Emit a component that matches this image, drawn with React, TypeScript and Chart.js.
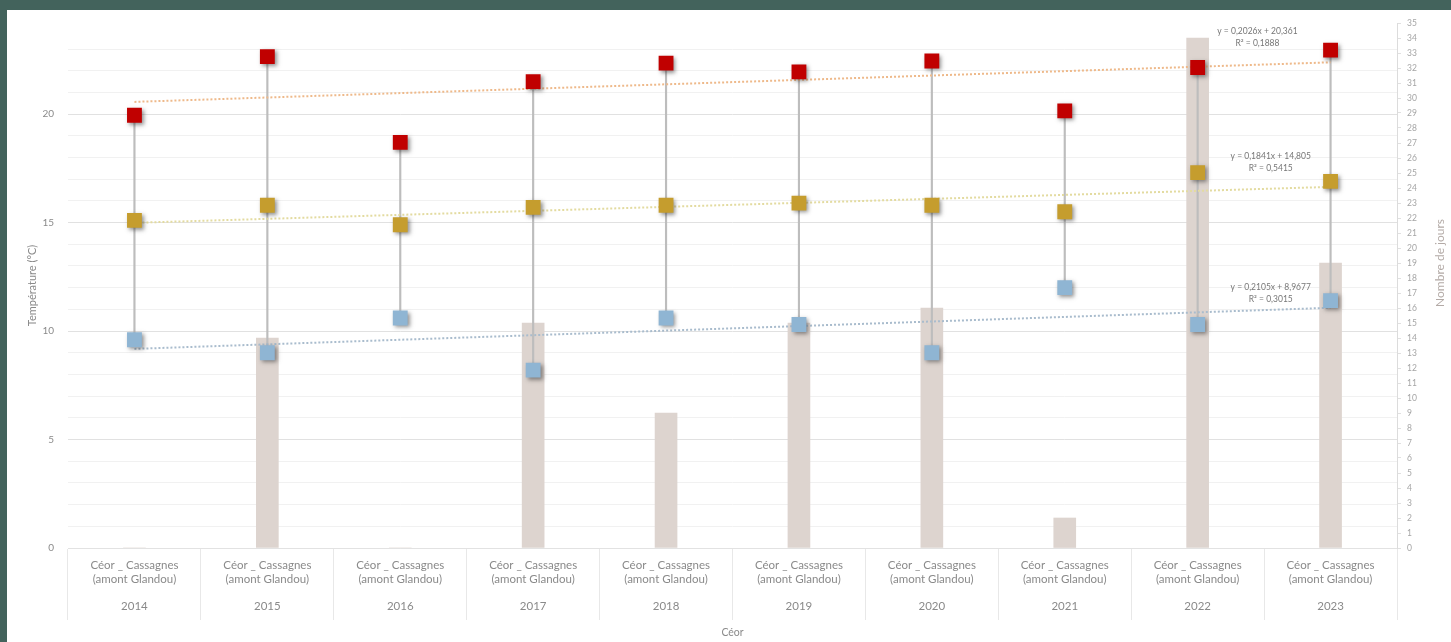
import React, { useEffect, useRef } from "react";
import { Chart, registerables } from "chart.js";

Chart.register(...registerables);

// Categories
const YEARS = ["2014", "2015", "2016", "2017", "2018", "2019", "2020", "2021", "2022", "2023"];
const SITE_LINE_1 = "Céor _ Cassagnes";
const SITE_LINE_2 = "(amont Glandou)";
const RIVER = "Céor";

// Water temperatures (°C)
const T_MAX = [19.95, 22.65, 18.7, 21.5, 22.35, 21.95, 22.45, 20.15, 22.15, 22.95];
const T_MEAN = [15.1, 15.8, 14.9, 15.7, 15.8, 15.9, 15.8, 15.5, 17.3, 16.9];
const T_MIN = [9.6, 9.0, 10.6, 8.2, 10.6, 10.3, 9.0, 12.0, 10.3, 11.4];

// Number of days (right axis)
const DAYS = [0, 14, 0, 15, 9, 15, 16, 2, 34, 19];

// Linear trends: y = slope * x + intercept, x = 1..10
const TREND_MAX = { slope: 0.2026, intercept: 20.361, r2: "0,1888", text: "y = 0,2026x + 20,361" };
const TREND_MEAN = { slope: 0.1841, intercept: 14.805, r2: "0,5415", text: "y = 0,1841x + 14,805" };
const TREND_MIN = { slope: 0.2105, intercept: 8.9677, r2: "0,3015", text: "y = 0,2105x + 8,9677" };

const RED = "#c00000";
const GOLD = "#c59d2e";
const BLUE = "#8fb5d3";
const FONT = "Lato, 'Open Sans', sans-serif";
const TEXT = "#8a8a8a";

const trendValues = (t: { slope: number; intercept: number }) =>
  YEARS.map((_, i) => t.slope * (i + 1) + t.intercept);

const markerShadow = {
  id: "markerShadow",
  beforeDatasetDraw(chart: any, args: any) {
    const ds = chart.data.datasets[args.index];
    if (!ds.shadow) return;
    const ctx = chart.ctx;
    ctx.save();
    ctx.shadowColor = "rgba(40,40,40,0.5)";
    ctx.shadowBlur = 4;
    ctx.shadowOffsetX = 2;
    ctx.shadowOffsetY = 2;
  },
  afterDatasetDraw(chart: any, args: any) {
    const ds = chart.data.datasets[args.index];
    if (!ds.shadow) return;
    chart.ctx.restore();
  },
};

const annotations = {
  id: "annotations",
  afterDraw(chart: any) {
    const { ctx, chartArea, scales } = chart;
    const x = scales.x;
    const y = scales.y;
    const y1 = scales.y1;
    ctx.save();
    ctx.fillStyle = TEXT;
    ctx.textAlign = "center";
    ctx.textBaseline = "middle";

    // category labels
    ctx.font = `11.5px ${FONT}`;
    YEARS.forEach((yr, i) => {
      const px = x.getPixelForValue(i);
      ctx.fillText(SITE_LINE_1, px, chartArea.bottom + 17);
      ctx.fillText(SITE_LINE_2, px, chartArea.bottom + 31);
      ctx.fillText(yr, px, chartArea.bottom + 58);
    });
    ctx.font = `10.5px ${FONT}`;
    ctx.fillText(RIVER, (chartArea.left + chartArea.right) / 2, chartArea.bottom + 85);

    // axis titles
    ctx.font = `11px ${FONT}`;
    ctx.save();
    ctx.translate(25, (chartArea.top + chartArea.bottom) / 2);
    ctx.rotate(-Math.PI / 2);
    ctx.fillText("Température (°C)", 0, 0);
    ctx.restore();

    ctx.font = `12px ${FONT}`;
    ctx.save();
    ctx.translate(y1.right - 11, y1.getPixelForValue(19));
    ctx.rotate(-Math.PI / 2);
    ctx.fillStyle = "#b3aaa6";
    ctx.fillText("Nombre de jours", 0, 0);
    ctx.restore();

    // trend equations
    ctx.font = `8.5px ${FONT}`;
    ctx.fillStyle = "#777";
    const eqs = [
      { t: TREND_MAX, xv: 8.45, yv: 23.8 },
      { t: TREND_MEAN, xv: 8.55, yv: 18.05 },
      { t: TREND_MIN, xv: 8.55, yv: 12.0 },
    ];
    eqs.forEach(({ t, xv, yv }) => {
      const px = x.getPixelForValue(xv);
      const py = y.getPixelForValue(yv);
      ctx.fillText(t.text, px, py);
      ctx.fillText(`R² = ${t.r2}`, px, py + 12);
    });
    ctx.restore();
  },
};

export default function App() {
  const canvasRef = useRef<HTMLCanvasElement | null>(null);

  useEffect(() => {
    document.body.style.margin = "0";
    const canvas = canvasRef.current;
    if (!canvas) return;

    const marker = (label: string, data: number[], color: string) => ({
      type: "line" as const,
      label,
      data,
      yAxisID: "y",
      showLine: false,
      pointStyle: "rect",
      pointRadius: 10.5,
      pointHoverRadius: 10.5,
      pointBackgroundColor: color,
      pointBorderColor: color,
      pointBorderWidth: 0,
      backgroundColor: color,
      borderColor: color,
      order: 0,
      shadow: true,
    });

    const trend = (label: string, data: number[], color: string) => ({
      type: "line" as const,
      label,
      data,
      yAxisID: "y",
      borderColor: color,
      borderWidth: 2,
      borderDash: [2, 2],
      pointRadius: 0,
      fill: false,
      order: 1,
    });

    const chart = new Chart(canvas, {
      type: "bar",
      data: {
        labels: YEARS,
        datasets: [
          marker("Température max", T_MAX, RED),
          marker("Température moyenne", T_MEAN, GOLD),
          marker("Température min", T_MIN, BLUE),
          trend("Tendance max", trendValues(TREND_MAX), "#eeb98a"),
          trend("Tendance moyenne", trendValues(TREND_MEAN), "#e3dba0"),
          trend("Tendance min", trendValues(TREND_MIN), "#a9bccd"),
          {
            type: "bar",
            label: "Amplitude",
            data: T_MIN.map((v, i) => [v, T_MAX[i]]),
            yAxisID: "y",
            backgroundColor: "#bdbdbd",
            barThickness: 1.5,
            grouped: false,
            order: 2,
          } as any,
          {
            type: "bar",
            label: "Nombre de jours",
            data: DAYS,
            yAxisID: "y1",
            backgroundColor: "#ddd4cf",
            barThickness: 22,
            grouped: false,
            order: 3,
          } as any,
        ],
      },
      options: {
        responsive: false,
        animation: false,
        devicePixelRatio: 1,
        layout: { autoPadding: false, padding: { top: 13, left: 0, right: 0, bottom: 0 } },
        plugins: { legend: { display: false }, tooltip: { enabled: false } },
        scales: {
          x: {
            offset: true,
            grid: {
              offset: true,
              drawOnChartArea: false,
              drawTicks: true,
              tickLength: 72,
              color: "#e8e8e8",
            },
            border: { color: "#e2e2e2" },
            ticks: { display: false },
            afterFit: (s: any) => {
              s.height = 94;
              s.paddingLeft = 0;
              s.paddingRight = 0;
            },
          },
          y: {
            position: "left",
            min: 0,
            max: 24.2,
            afterBuildTicks: (s: any) => {
              s.ticks = s.ticks.filter((t: any) => Number.isInteger(t.value));
            },
            ticks: {
              stepSize: 1,
              autoSkip: false,
              padding: 14,
              color: TEXT,
              font: { family: FONT, size: 10 },
              callback: (v: any) => (Number(v) % 5 === 0 ? String(v) : ""),
            },
            grid: {
              drawTicks: false,
              color: (c: any) => (c.tick && c.tick.value % 5 === 0 ? "#e1e1e1" : "#f1f1f1"),
            },
            border: { display: false },
            afterFit: (s: any) => {
              s.width = 61;
              s.paddingTop = 0;
              s.paddingBottom = 0;
            },
          },
          y1: {
            position: "right",
            min: 0,
            max: 35,
            ticks: {
              stepSize: 1,
              autoSkip: false,
              padding: 6,
              color: "#a5a5a5",
              font: { family: FONT, size: 8.5 },
            },
            grid: { drawOnChartArea: false, tickLength: 4, color: "#e0e0e0" },
            border: { color: "#dcdcdc", dash: [2, 2] },
            afterFit: (s: any) => {
              s.width = 54;
              s.paddingTop = 0;
              s.paddingBottom = 0;
            },
          },
        },
      } as any,
      plugins: [markerShadow, annotations],
    });

    return () => chart.destroy();
  }, []);

  return (
    <div
      style={{
        position: "fixed",
        left: 0,
        top: 0,
        width: 1451,
        height: 642,
        background: "#43635c",
        overflow: "hidden",
      }}
    >
      <div
        style={{
          position: "absolute",
          left: 7,
          top: 10,
          width: 1444,
          height: 632,
          background: "#ffffff",
        }}
      >
        <canvas ref={canvasRef} width={1444} height={632} style={{ display: "block" }} />
      </div>
    </div>
  );
}
